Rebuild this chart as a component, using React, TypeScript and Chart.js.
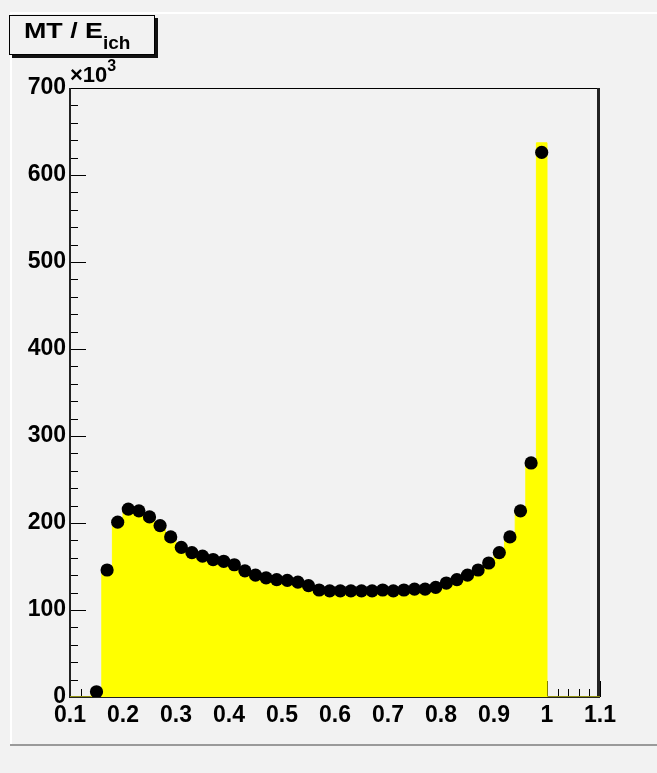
import React, { useEffect, useRef } from "react";
import { Chart, registerables } from "chart.js";

Chart.register(...registerables);

// Histogram (yellow) bin low edges and contents (in units of 10^3)
const histEdges = [
  0.10, 0.12, 0.14, 0.16, 0.18, 0.20, 0.22, 0.24, 0.26, 0.28,
  0.30, 0.32, 0.34, 0.36, 0.38, 0.40, 0.42, 0.44, 0.46, 0.48,
  0.50, 0.52, 0.54, 0.56, 0.58, 0.60, 0.62, 0.64, 0.66, 0.68,
  0.70, 0.72, 0.74, 0.76, 0.78, 0.80, 0.82, 0.84, 0.86, 0.88,
  0.90, 0.92, 0.94, 0.96, 0.98, 1.00, 1.02, 1.04, 1.06, 1.08, 1.10,
];
const histValues = [
  0, 0, 5, 146, 201, 216, 214, 207, 197, 184,
  172, 166, 162, 158, 156, 152, 145, 140, 137, 135,
  134, 132, 128, 123, 122, 122, 122, 122, 122, 123,
  122, 123, 124, 124, 126, 131, 135, 140, 146, 154,
  166, 184, 214, 269, 637, 0, 0, 0, 0, 0,
];

// Data points (black markers) at bin centres (in units of 10^3)
const pointCenters = [
  0.15, 0.17, 0.19, 0.21, 0.23, 0.25, 0.27, 0.29, 0.31, 0.33,
  0.35, 0.37, 0.39, 0.41, 0.43, 0.45, 0.47, 0.49, 0.51, 0.53,
  0.55, 0.57, 0.59, 0.61, 0.63, 0.65, 0.67, 0.69, 0.71, 0.73,
  0.75, 0.77, 0.79, 0.81, 0.83, 0.85, 0.87, 0.89, 0.91, 0.93,
  0.95, 0.97, 0.99,
];
const pointValues = [
  6, 146, 201, 216, 214, 207, 197, 184, 172, 166,
  162, 158, 156, 152, 145, 140, 137, 135, 134, 132,
  128, 123, 122, 122, 122, 122, 122, 123, 122, 123,
  124, 124, 126, 131, 135, 140, 146, 154, 166, 184,
  214, 269, 626,
];

const xMin = 0.1;
const xMax = 1.1;
const yMin = 0;
const yMax = 700;
const titleMain = "MT / E";
const titleSub = "ich";
const yExponent = "3";

const FONT = "'Liberation Sans', Arial, Helvetica, sans-serif";
const BG = "#f2f2f2";

export default function App() {
  const ref = useRef<HTMLCanvasElement | null>(null);

  useEffect(() => {
    document.body.style.margin = "0";
    const canvas = ref.current;
    if (!canvas) return;

    const framePlugin = {
      id: "rootFrame",
      beforeDraw(chart: any) {
        const ctx = chart.ctx;
        ctx.save();
        ctx.fillStyle = BG;
        ctx.fillRect(0, 0, chart.width, chart.height);
        // pad bevel
        ctx.fillStyle = "#ffffff";
        ctx.fillRect(10, 12, chart.width - 10, 2);
        ctx.fillRect(10, 12, 2, 733);
        ctx.fillStyle = "#9a9a9a";
        ctx.fillRect(10, 744, chart.width - 10, 2);
        ctx.restore();
      },
      beforeDatasetsDraw(chart: any) {
        const ctx = chart.ctx;
        const a = chart.chartArea;
        const xs = chart.scales.x;
        const ys = chart.scales.y;
        ctx.save();
        ctx.strokeStyle = "#000";
        ctx.lineWidth = 1;
        // ticks on y axis
        for (let i = 0; i <= 35; i++) {
          const v = i * 20;
          const py = Math.round(ys.getPixelForValue(v)) + 0.5;
          const len = i % 5 === 0 ? 16 : 8;
          ctx.beginPath();
          ctx.moveTo(a.left, py);
          ctx.lineTo(a.left + len, py);
          ctx.stroke();
        }
        // ticks on x axis
        for (let i = 0; i <= 50; i++) {
          const v = 0.1 + i * 0.02;
          const px = Math.round(xs.getPixelForValue(v)) + 0.5;
          const len = i % 5 === 0 ? 16 : 8;
          ctx.beginPath();
          ctx.moveTo(px, a.bottom);
          ctx.lineTo(px, a.bottom - len);
          ctx.stroke();
        }
        // frame
        ctx.beginPath();
        ctx.moveTo(a.left, a.top + 0.5);
        ctx.lineTo(a.right, a.top + 0.5);
        ctx.stroke();
        ctx.fillStyle = "#222";
        ctx.fillRect(a.left - 1, a.top, 2, a.bottom - a.top + 1);
        ctx.fillRect(a.left - 1, a.bottom - 1, a.right - a.left + 1, 2);
        ctx.fillRect(a.right - 3, a.top, 3, a.bottom - a.top);
        ctx.restore();
      },
      afterDraw(chart: any) {
        const ctx = chart.ctx;
        ctx.save();
        // title box with shadow
        ctx.fillStyle = "#111";
        ctx.fillRect(155, 18, 3, 40);
        ctx.fillRect(12, 55, 146, 3);
        ctx.fillStyle = BG;
        ctx.fillRect(10, 16, 144, 38);
        ctx.strokeStyle = "#000";
        ctx.lineWidth = 1;
        ctx.strokeRect(9.5, 15.5, 145, 39);
        ctx.fillStyle = "#000";
        ctx.textBaseline = "alphabetic";
        ctx.textAlign = "left";
        ctx.font = `bold 22px ${FONT}`;
        const w = ctx.measureText(titleMain).width;
        ctx.save();
        ctx.translate(24, 38);
        ctx.scale(79 / w, 1);
        ctx.fillText(titleMain, 0, 0);
        ctx.restore();
        ctx.font = `bold 19px ${FONT}`;
        ctx.fillText(titleSub, 103, 49);
        // exponent label
        const a = chart.chartArea;
        ctx.font = `bold 22px ${FONT}`;
        ctx.fillText("\u00d710", a.left, 82);
        const w2 = ctx.measureText("\u00d710").width;
        ctx.font = `bold 16px ${FONT}`;
        ctx.fillText(yExponent, a.left + w2, 71);
        ctx.restore();
      },
    };

    const chart = new Chart(canvas, {
      type: "scatter",
      data: {
        datasets: [
          {
            type: "scatter",
            data: pointCenters.map((x, i) => ({ x, y: pointValues[i] })),
            backgroundColor: "#000",
            borderColor: "#000",
            borderWidth: 0,
            pointRadius: 6.6,
            pointStyle: "circle",
            order: 0,
          } as any,
          {
            type: "line",
            data: histEdges.map((x, i) => ({ x, y: i < histValues.length ? histValues[i] : 0 })),
            stepped: "before",
            fill: "origin",
            backgroundColor: "#ffff00",
            borderColor: "#ffff00",
            borderWidth: 1,
            pointRadius: 0,
            showLine: true,
            order: 1,
          } as any,
        ],
      },
      options: {
        animation: false,
        responsive: false,
        devicePixelRatio: 1,
        events: [],
        layout: { padding: { left: 0, top: 88, right: 57, bottom: 26 } },
        plugins: {
          legend: { display: false },
          tooltip: { enabled: false },
          title: { display: false },
        },
        scales: {
          x: {
            type: "linear",
            min: xMin,
            max: xMax,
            afterFit: (s: any) => {
              s.height = 50;
            },
            grid: { display: false, drawTicks: false },
            border: { display: false },
            ticks: {
              stepSize: 0.1,
              padding: 5,
              color: "#000",
              font: { family: FONT, size: 23, weight: "bold" },
              maxRotation: 0,
              autoSkip: false,
              callback: (v: any) => String(Number(Number(v).toFixed(2))),
            },
          },
          y: {
            type: "linear",
            min: yMin,
            max: yMax,
            afterFit: (s: any) => {
              s.width = 70;
            },
            grid: { display: false, drawTicks: false },
            border: { display: false },
            ticks: {
              stepSize: 100,
              padding: 4,
              color: "#000",
              font: { family: FONT, size: 23, weight: "bold" },
              callback: (v: any) => String(v),
            },
          },
        },
      },
      plugins: [framePlugin],
    } as any);

    return () => chart.destroy();
  }, []);

  return (
    <canvas
      ref={ref}
      width={657}
      height={773}
      style={{ display: "block", width: 657, height: 773 }}
    />
  );
}
